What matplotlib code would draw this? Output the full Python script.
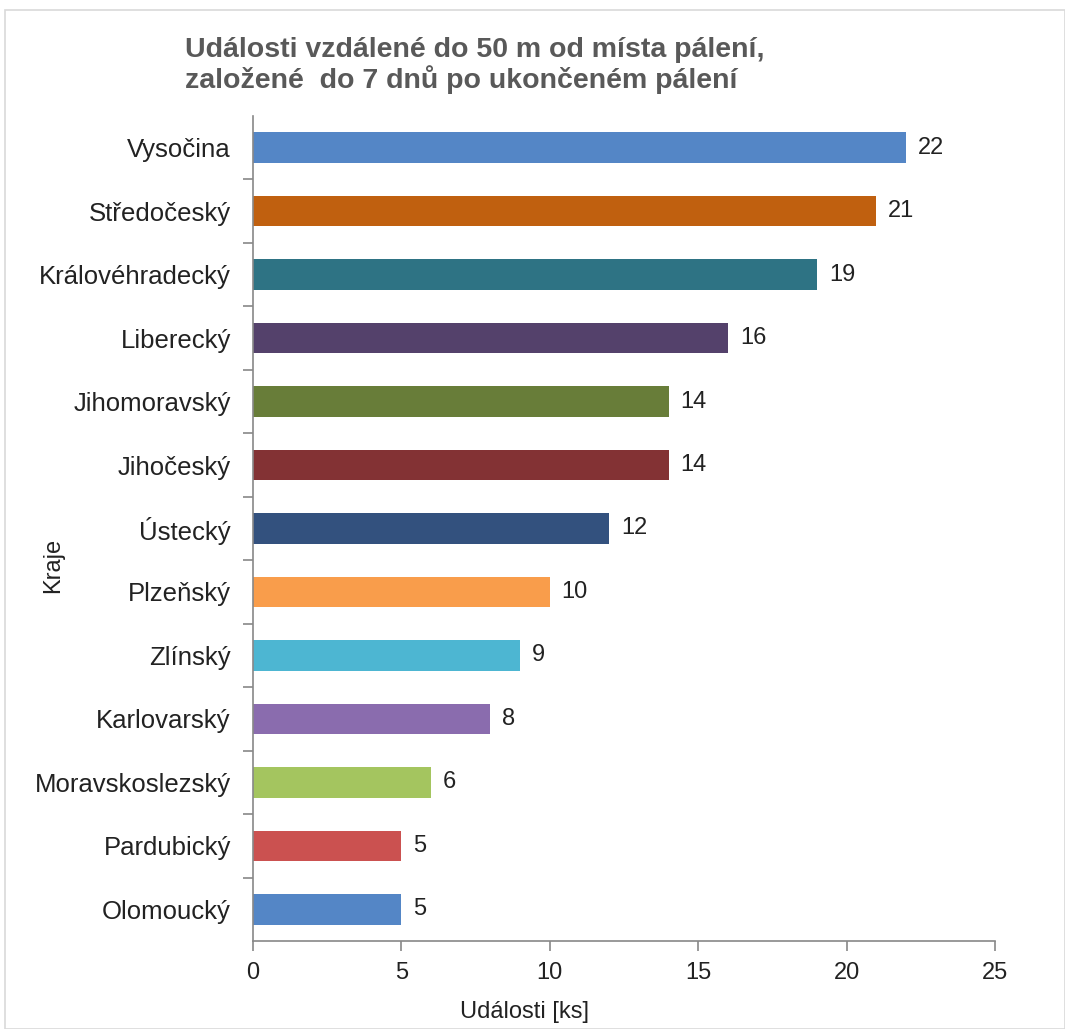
import matplotlib
matplotlib.use("Agg")
import matplotlib.pyplot as plt
from matplotlib.patches import Rectangle

# data (top to bottom)
kraje = ["Vysočina", "Středočeský", "Královéhradecký", "Liberecký", "Jihomoravský",
         "Jihočeský", "Ústecký", "Plzeňský", "Zlínský", "Karlovarský",
         "Moravskoslezský", "Pardubický", "Olomoucký"]
udalosti = [22, 21, 19, 16, 14, 14, 12, 10, 9, 8, 6, 5, 5]
barvy = ["#5486C6", "#C0600F", "#2E7384", "#54416B", "#687D39", "#833234",
         "#33517E", "#F99D4B", "#4DB6D2", "#8A6CAE", "#A4C55F", "#CB5150", "#5486C6"]
xticks = [0, 5, 10, 15, 20, 25]

plt.rcParams['font.family'] = ['Liberation Sans', 'DejaVu Sans']
text_col = "#222222"
axis_col = "#888888"

fig = plt.figure(figsize=(10.65, 10.29), dpi=100)
ax = fig.add_axes([0.2376, 0.0855, 0.6967, 0.8018])

pos = list(range(len(kraje)))[::-1]
ax.barh(pos, udalosti, height=0.48, color=barvy)
for p, v in zip(pos, udalosti):
    ax.text(v + 0.4, p, str(v), va="center", ha="left", fontsize=17, color=text_col)

ax.set_xlim(0, 25)
ax.set_ylim(-0.5, len(kraje) - 0.5)
ax.set_xticks(xticks)
ax.set_xticklabels([str(t) for t in xticks], fontsize=17, color=text_col)
ax.set_yticks(pos)
ax.set_yticklabels(kraje, fontsize=18.5, color=text_col)
ax.set_yticks([i + 0.5 for i in range(len(kraje) - 1)], minor=True)
ax.tick_params(axis="y", which="major", length=0, pad=16)
ax.tick_params(axis="y", which="minor", length=7, color=axis_col, width=1.2)
ax.tick_params(axis="x", length=7, color=axis_col, width=1.2, pad=8)

for s in ["top", "right"]:
    ax.spines[s].set_visible(False)
for s in ["left", "bottom"]:
    ax.spines[s].set_color(axis_col)
    ax.spines[s].set_linewidth(1.2)

fig.text(185 / 1065, 1 - 37 / 1029,
         "Události vzdálené do 50 m od místa pálení,\nzaložené  do 7 dnů po ukončeném pálení",
         ha="left", va="top", fontsize=20.5, fontweight="bold", color="#595959", linespacing=1.1)
fig.text(53 / 1065, 1 - 565 / 1029, "Kraje", rotation=90, ha="center", va="center",
         fontsize=17, color=text_col)
fig.text(525 / 1065, 1 - 1012 / 1029, "Události [ks]", ha="center", va="center",
         fontsize=17, color=text_col)

fig.patches.append(Rectangle((5 / 1065, 0), 1 - 5 / 1065, 1 - 10 / 1029, transform=fig.transFigure,
                             fill=False, edgecolor="#d9d9d9", linewidth=1.2))

fig.savefig("out.png", dpi=100)
